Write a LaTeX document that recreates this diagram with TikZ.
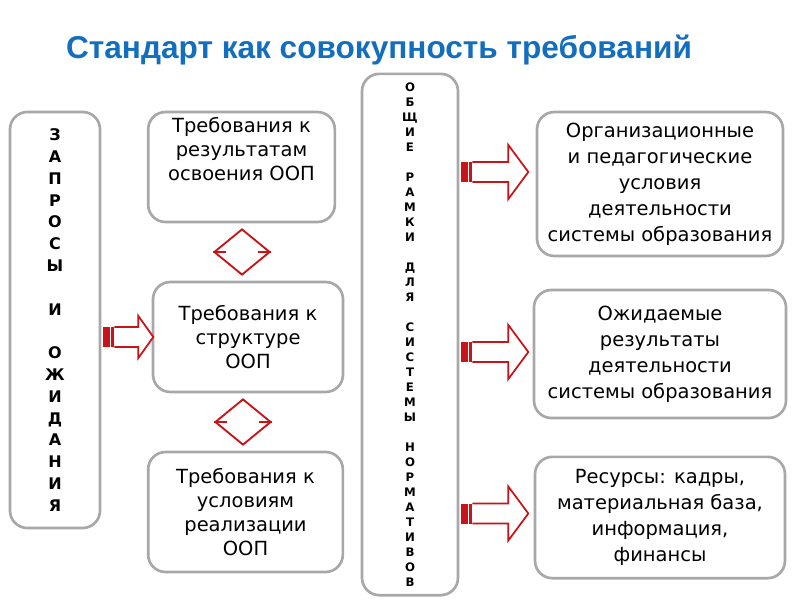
\documentclass[tikz,border=0pt]{standalone}
\usepackage{fontspec}
\setmainfont{DejaVu Sans}
\newfontfamily\titlefont{Liberation Sans}
\usetikzlibrary{shapes.geometric,positioning,calc}
\definecolor{titleblue}{RGB}{20,110,190}
\definecolor{arrowred}{RGB}{200,20,25}
\definecolor{framegray}{RGB}{168,168,168}

\tikzset{
  reqbox/.style={draw=framegray, line width=2pt, rounded corners=13pt, fill=white,
                 align=center, inner sep=2pt, font=\fontsize{14.6}{18}\selectfont},
  condbox/.style={reqbox, font=\fontsize{14.6}{19.5}\selectfont},
  letterbox/.style={reqbox, font=\bfseries\fontsize{12}{16.35}\selectfont},
  normbox/.style={reqbox, font=\bfseries\fontsize{8.8}{11.25}\selectfont},
  linkmark/.style={diamond, draw=arrowred, line width=1.4pt, inner sep=0pt,
                   minimum width=42pt, minimum height=34.5pt},
  pics/blockarr/.style n args={3}{code={
    \fill[arrowred] (0,-10) rectangle (11,10);
    \draw[white, line width=0.6pt] (7,-10) -- (7,10);
    \draw[arrowred, line width=1.3pt, fill=white, line join=miter]
      (11,-10) -- ({#1-#2},-10) -- ({#1-#2},-#3) -- (#1,0) -- ({#1-#2},#3) -- ({#1-#2},10) -- (11,10);
  }}
}

\begin{document}
\begin{tikzpicture}[x=0.75pt, y=-0.75pt]
  \useasboundingbox (0,0) rectangle (800,600);

  % title
  \node[font=\titlefont\bfseries\fontsize{23.7}{28}\selectfont, text=titleblue] (title) at (379,50)
       {Стандарт как совокупность требований};

  % left column
  \node[letterbox, minimum width=67.5pt, minimum height=312pt] (requests) at (55,320)
       {З\\А\\П\\Р\\О\\С\\Ы\\\mbox{}\\И\\\mbox{}\\О\\Ж\\И\\Д\\А\\Н\\И\\Я};

  % requirement boxes
  \node[reqbox, minimum width=140pt, minimum height=82.5pt, text depth=27pt] (results) at (241.5,167)
       {Требования к\\результатам\\освоения ООП};
  \node[reqbox, minimum width=142.5pt, minimum height=82.5pt] (struct) at (248,337)
       {Требования к\\структуре\\ООП};
  \node[reqbox, minimum width=146pt, minimum height=90pt] (realize) at (245.5,512)
       {Требования к\\условиям\\реализации\\ООП};

  % links between requirements
  \node[linkmark] (linkA) at (242,252) {};
  \node[linkmark] (linkB) at (243,422) {};
  \foreach \m in {linkA,linkB} {
    \draw[arrowred, line width=1.4pt] (\m.west) -- ++(13,0);
    \draw[arrowred, line width=1.4pt] (\m.east) -- ++(-13,0);
  }

  % tall frame
  \node[normbox, minimum width=72pt, minimum height=391pt] (norms) at (410,334.5)
       {О\\Б\\Щ\\И\\Е\\\mbox{}\\Р\\А\\М\\К\\И\\\mbox{}\\Д\\Л\\Я\\\mbox{}\\С\\И\\С\\Т\\Е\\М\\Ы\\\mbox{}\\Н\\О\\Р\\М\\А\\Т\\И\\В\\О\\В};

  % right boxes
  \node[condbox, minimum width=184.5pt, minimum height=108pt] (orgcond) at (660,184)
       {Организационные\\и педагогические\\условия\\деятельности\\системы образования};
  \node[condbox, minimum width=189pt, minimum height=96pt] (outcome) at (660,354)
       {Ожидаемые\\результаты\\деятельности\\системы образования};
  \node[condbox, minimum width=187.5pt, minimum height=91pt] (resource) at (660,517.5)
       {Ресурсы: кадры,\\материальная база,\\информация,\\финансы};

  % block arrows
  \pic at ($(requests.east |- struct.west)+(2,0)$) {blockarr={50}{15}{21}};
  \pic at ($(norms.east |- orgcond.west)+(2,-12)$) {blockarr={67}{20}{27}};
  \pic at ($(norms.east |- outcome.west)+(2,-2)$) {blockarr={67}{20}{27}};
  \pic at ($(norms.east |- resource.west)+(2,-4)$) {blockarr={67}{20}{27}};
\end{tikzpicture}
\end{document}
